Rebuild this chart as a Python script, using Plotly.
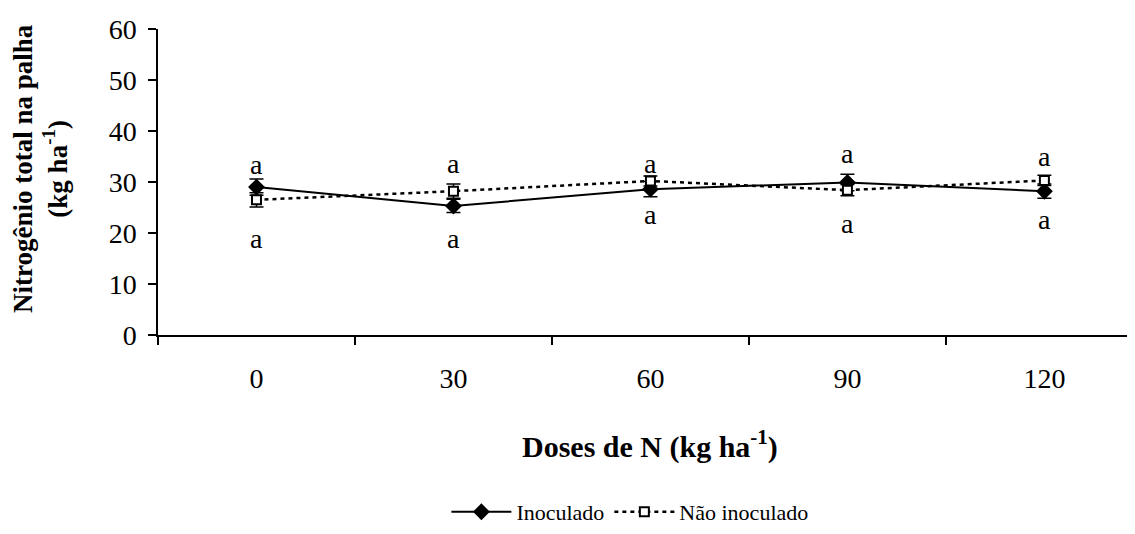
import plotly.graph_objects as go

doses = ["0", "30", "60", "90", "120"]
inoculado = [29.0, 25.3, 28.6, 29.9, 28.2]
inoculado_err = [1.6, 1.3, 1.5, 1.6, 1.4]
nao_inoculado = [26.5, 28.2, 30.2, 28.4, 30.3]
nao_inoculado_err = [1.4, 1.4, 1.0, 1.1, 1.0]
letra_sup = ["a", "a", "a", "a", "a"]
letra_sup_y = [33.4, 33.6, 33.6, 35.6, 35.0]
letra_inf = ["a", "a", "a", "a", "a"]
letra_inf_y = [18.9, 18.9, 23.6, 21.9, 22.6]

FONT = "Liberation Serif, Times New Roman, serif"

fig = go.Figure()
fig.add_trace(go.Scatter(
    x=doses, y=inoculado, name="Inoculado", mode="lines+markers",
    line=dict(color="black", width=2),
    marker=dict(symbol="diamond", size=13, color="black"),
    error_y=dict(type="data", array=inoculado_err, color="black", thickness=1.5, width=7),
))
fig.add_trace(go.Scatter(
    x=doses, y=nao_inoculado, name="Não inoculado", mode="lines+markers",
    line=dict(color="black", width=2.5, dash="4px,4px"),
    marker=dict(symbol="square", size=9, color="white", line=dict(color="black", width=2)),
    error_y=dict(type="data", array=nao_inoculado_err, color="black", thickness=1.5, width=7),
))

for i, d in enumerate(doses):
    fig.add_annotation(x=i, y=letra_sup_y[i], text=letra_sup[i], showarrow=False,
                       xref="x", yref="y", xanchor="center", yanchor="middle",
                       font=dict(family=FONT, size=28, color="black"))
    fig.add_annotation(x=i, y=letra_inf_y[i], text=letra_inf[i], showarrow=False,
                       xref="x", yref="y", xanchor="center", yanchor="middle",
                       font=dict(family=FONT, size=28, color="black"))

fig.add_annotation(x=0.5036, y=-0.358, xref="paper", yref="paper", showarrow=False,
                   xanchor="center", yanchor="middle",
                   text="<b>Doses de N (kg ha<sup>-1</sup>)</b>",
                   font=dict(family=FONT, size=30, color="black"))
fig.add_annotation(x=-0.121, y=0.545, xref="paper", yref="paper", showarrow=False,
                   xanchor="center", yanchor="middle", textangle=-90,
                   text="<b>Nitrogênio total na palha</b><br><b>(kg ha<sup>-1</sup>)</b>",
                   font=dict(family=FONT, size=27, color="black"))

# page body has an 8px margin; compensate so the plot lands where the reference has it
fig.update_layout(
    width=1127, height=526,
    margin=dict(l=150, r=0, t=21, b=199),
    paper_bgcolor="white", plot_bgcolor="white",
    font=dict(family=FONT, color="black"),
    showlegend=True,
    legend=dict(orientation="h", x=0.483, xanchor="center", y=-0.647, yanchor="bottom",
                font=dict(family=FONT, size=22, color="black"), itemwidth=60,
                bgcolor="rgba(0,0,0,0)"),
    xaxis=dict(type="category", range=[-0.5, 4.46], showgrid=False, zeroline=False,
               showline=True, linecolor="black", linewidth=1.5,
               ticks="outside", tickson="boundaries", ticklen=8, tickcolor="black", tickwidth=1.5,
               tickfont=dict(family=FONT, size=28, color="black"), ticklabelstandoff=18),
    yaxis=dict(range=[0, 60], dtick=10, showgrid=False, zeroline=False,
               showline=True, linecolor="black", linewidth=1.5,
               ticks="outside", ticklen=8, tickcolor="black", tickwidth=1.5,
               tickfont=dict(family=FONT, size=28, color="black"), ticklabelstandoff=6),
)

fig.write_html("out.html")
